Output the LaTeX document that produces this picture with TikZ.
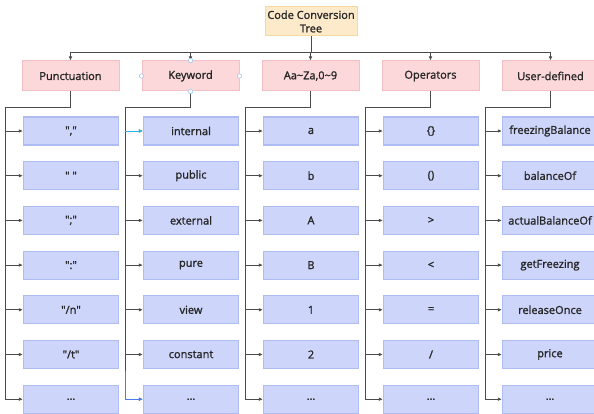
\documentclass[tikz,border=0pt]{standalone}
\usepackage{fontspec}
\setmainfont{Open Sans}
\newfontfamily\labelfont{Open Sans}[FakeBold=1.4]
\usepackage{tikz}
\usetikzlibrary{calc,positioning,arrows.meta}
\definecolor{RootFill}{HTML}{FDEACB}
\definecolor{RootLine}{HTML}{F6D89A}
\definecolor{CatFill}{HTML}{FCD8DA}
\definecolor{CatLine}{HTML}{F5C0C4}
\definecolor{LeafFill}{HTML}{CDD5FB}
\definecolor{LeafLine}{HTML}{AEBCF3}
\definecolor{WireGray}{HTML}{4A4A4A}
\definecolor{WireCyan}{HTML}{2AB4EE}
\definecolor{WireBlue}{HTML}{4C7DF0}
\definecolor{HandleLine}{HTML}{93C5EC}
\definecolor{TextDark}{HTML}{262626}

\begin{document}
\begin{tikzpicture}[x=1pt, y=-1pt, font=\labelfont\fontsize{11}{13.5}\selectfont, text=TextDark,
    rootbox/.style={fill=RootFill, draw=RootLine, line width=1pt, minimum width=92pt, minimum height=29pt, inner sep=1pt, align=center},
    catbox/.style={fill=CatFill, draw=CatLine, line width=1pt, minimum width=97pt, minimum height=30pt, inner sep=1pt},
    leafbox/.style={fill=LeafFill, draw=LeafLine, line width=1.2pt, minimum width=95pt, minimum height=28pt, inner sep=1pt},
    wire/.style={WireGray, line width=0.75pt},
    tip/.style={wire, -{Latex[length=4pt, width=3.5pt]}},
    handle/.style={circle, fill=white, draw=HandleLine, line width=0.5pt, inner sep=0pt, minimum size=4.5pt}]
    \useasboundingbox (0,0) rectangle (594,414);

    % root and the five groups
    \node[rootbox] (root) at (311,21.5) {Code Conversion\\Tree};
    \foreach \name [count=\i] in {Punctuation, Keyword, {Aa\textasciitilde Za,0\textasciitilde 9}, Operators, User-defined}
        \node[catbox] (cat\i) at ({70.5+120*(\i-1)},76) {\name};
    \foreach \i in {1,...,5}
        \draw[tip] (root.south) -- ++(0,16) -| (cat\i.north);

    % leaves, one column per group
    \foreach \lbl [count=\r] in {{\textquotedbl,\textquotedbl}, {\textquotedbl\ \textquotedbl}, {\textquotedbl;\textquotedbl}, {\textquotedbl:\textquotedbl}, {\textquotedbl/n\textquotedbl}, {\textquotedbl/t\textquotedbl}, {\ldots}}
        \node[leafbox] (leaf-1-\r) at (71,{131+44.7*(\r-1)}) {\lbl};
    \foreach \lbl [count=\r] in {internal, public, external, pure, view, constant, {\ldots}}
        \node[leafbox] (leaf-2-\r) at (191,{131+44.7*(\r-1)}) {\lbl};
    \foreach \lbl [count=\r] in {a, b, A, B, 1, 2, {\ldots}}
        \node[leafbox] (leaf-3-\r) at (311,{131+44.7*(\r-1)}) {\lbl};
    \foreach \lbl [count=\r] in {{\{\}}, {()}, {>}, {<}, {=}, {/}, {\ldots}}
        \node[leafbox] (leaf-4-\r) at (431,{131+44.7*(\r-1)}) {\lbl};
    \foreach \lbl [count=\r] in {freezingBalance, balanceOf, actualBalanceOf, getFreezing, releaseOnce, price, {\ldots}}
        \node[leafbox] (leaf-5-\r) at (550,{131+44.7*(\r-1)}) {\lbl};

    % spines from each group down its column
    \foreach \i in {1,...,5} {
        \coordinate (sp\i) at ($(cat\i.south)+(-65.5,16)$);
        \draw[wire] (cat\i.south) |- (sp\i) -- (sp\i |- leaf-\i-7.west);
        \foreach \r in {1,...,7}
            \draw[tip] (sp\i |- leaf-\i-\r.west) -- (leaf-\i-\r.west);
    }

    % highlighted links under Keyword
    \draw[tip, WireCyan] (sp2 |- leaf-2-1.west) -- (leaf-2-1.west);
    \draw[tip, WireBlue] ($(sp2 |- leaf-2-6.west)+(0,16)$) -- (sp2 |- leaf-2-7.west) -- (leaf-2-7.west);

    % selection handles on Keyword
    \foreach \a in {north, south, east, west}
        \node[handle] (hd-\a) at (cat2.\a) {};
\end{tikzpicture}
\end{document}
